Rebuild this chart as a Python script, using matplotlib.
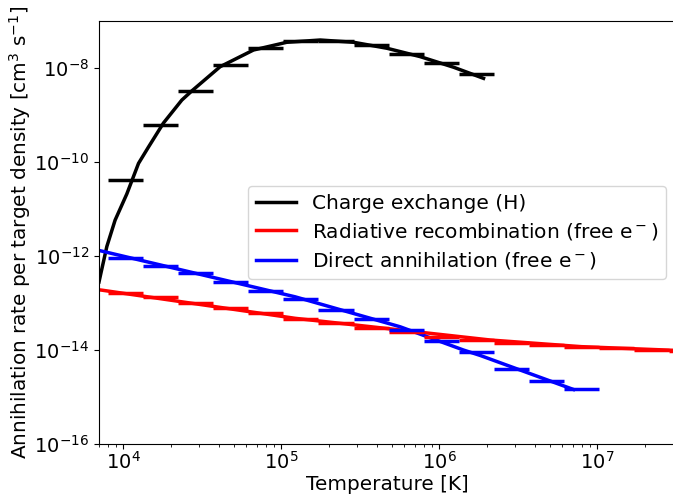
import matplotlib
matplotlib.use('Agg')
import matplotlib.pyplot as plt

# temperature bins (K) shared by the binned rates
bin_edges = [8.0e3, 1.333e4, 2.222e4, 3.704e4, 6.173e4, 1.029e5, 1.715e5,
             2.858e5, 4.763e5, 7.938e5, 1.323e6, 2.205e6, 3.675e6, 6.125e6,
             1.021e7, 1.701e7, 2.835e7, 4.725e7]

# charge exchange with H
T_cx = [7.0e3, 7.23e3, 7.85e3, 8.85e3, 1.05e4, 1.245e4, 1.44e4, 1.79e4, 2.34e4,
        2.71e4, 4.09e4, 6.65e4, 1.08e5, 1.76e5, 2.86e5, 4.65e5, 7.55e5,
        1.23e6, 1.9e6]
rate_cx = [2.8e-13, 4.6e-13, 1.6e-12, 5.8e-12, 2.1e-11, 9.4e-11, 2.1e-10,
           6.8e-10, 2.1e-9, 3.3e-9, 1.08e-8, 2.45e-8, 3.58e-8, 4.0e-8,
           3.58e-8, 2.67e-8, 1.77e-8, 1.05e-8, 6.1e-9]
bins_cx = [4.2e-11, 6.2e-10, 3.3e-9, 1.17e-8, 2.75e-8, 3.8e-8, 3.8e-8,
           3.14e-8, 2.06e-8, 1.32e-8, 7.4e-9]

# radiative recombination with free electrons
T_rr = [7.0e3, 7.3e3, 1.22e5, 2.1e6, 7.9e6, 3.2e7]
rate_rr = [1.9e-13, 1.87e-13, 4.7e-14, 1.62e-14, 1.17e-14, 9.7e-15]
bins_rr = [1.59e-13, 1.31e-13, 1.0e-13, 7.9e-14, 6.15e-14, 4.45e-14, 3.65e-14,
           2.86e-14, 2.42e-14, 1.89e-14, 1.66e-14, 1.41e-14, 1.28e-14,
           1.16e-14, 1.07e-14, 1.0e-14, 9.6e-15]

# direct annihilation with free electrons
T_da = [7.0e3, 7.3e3, 1.22e5, 5.64e5, 1.42e6, 1.81e6, 7.05e6]
rate_da = [1.31e-12, 1.27e-12, 1.35e-13, 3.1e-14, 9.9e-15, 7.6e-15, 1.43e-15]
bins_da = [8.9e-13, 6.2e-13, 4.26e-13, 2.82e-13, 1.81e-13, 1.22e-13,
           7.0e-14, 4.45e-14, 2.63e-14, 1.56e-14, 8.8e-15, 4.0e-15, 2.15e-15,
           1.43e-15]

plt.rcParams['font.size'] = 14

fig = plt.figure(figsize=(6.73, 4.94), dpi=100)
ax = fig.add_axes([0.1471, 0.1018, 0.858, 0.855])

ax.plot(T_cx, rate_cx, color='black', lw=2.5, label='Charge exchange (H)')
ax.plot(T_rr, rate_rr, color='red', lw=2.5,
        label=r'Radiative recombination (free e$^-$)')
ax.plot(T_da, rate_da, color='blue', lw=2.5,
        label=r'Direct annihilation (free e$^-$)')

for vals, col in [(bins_cx, 'black'), (bins_rr, 'red'), (bins_da, 'blue')]:
    n = len(vals)
    ax.hlines(vals, bin_edges[:n], bin_edges[1:n + 1], colors=col, lw=2.5)

ax.set_xscale('log')
ax.set_yscale('log')
ax.set_xlim(7e3, 3.16e7)
ax.set_ylim(1e-16, 1e-7)
ax.set_yticks([1e-16, 1e-14, 1e-12, 1e-10, 1e-8])
ax.tick_params(axis='x', pad=2)
ax.set_xlabel('Temperature [K]', fontsize=14.4, labelpad=1)
ax.set_ylabel(r'Annihilation rate per target density [cm$^3$ s$^{-1}$]',
              fontsize=14.4, labelpad=1)
ax.legend(loc='center right', fontsize=14.5, labelspacing=0.4)

fig.savefig('out.png', dpi=100)
